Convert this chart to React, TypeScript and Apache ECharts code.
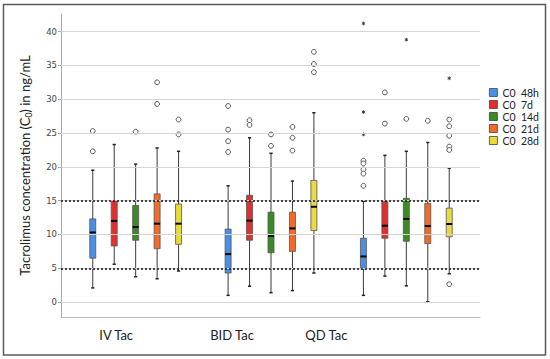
import React, { useEffect, useRef } from "react";
import * as echarts from "echarts";

const groups = ["IV Tac", "BID Tac", "QD Tac"];
const seriesNames = ["C0  48h", "C0  7d", "C0  14d", "C0  21d", "C0  28d"];
const colors = ["#4a8fe3", "#e0302e", "#3b8a26", "#f36b2b", "#e9da3f"];
const yTicks = [0, 5, 10, 15, 20, 25, 30, 35, 40];
const refLines = [5, 15];

// [min, Q1, median, Q3, max] for IV, BID, QD
const c48h = [[2.1, 6.5, 10.3, 12.3, 19.5], [1.0, 4.3, 7.1, 10.8, 17.2], [1.0, 4.9, 6.75, 9.45, 14.9]];
const c7d = [[5.6, 8.3, 12.0, 15.0, 23.3], [2.35, 9.15, 12.05, 15.8, 24.3], [3.85, 9.45, 11.3, 14.85, 21.7]];
const c14d = [[3.75, 9.15, 11.1, 14.3, 20.4], [1.4, 7.3, 9.8, 13.3, 22.0], [2.4, 9.0, 12.3, 15.35, 22.3]];
const c21d = [[3.45, 7.9, 11.6, 16.0, 22.8], [1.7, 7.5, 10.9, 13.3, 17.9], [0.05, 8.65, 11.25, 14.6, 23.6]];
const c28d = [[4.6, 8.55, 11.6, 14.5, 22.3], [4.3, 10.6, 14.1, 18.0, 28.0], [4.2, 9.65, 11.55, 13.9, 19.8]];

// outliers (circles)
const o48h = [[25.3, 22.3], [29.0, 25.5, 23.8, 22.2], [20.9, 20.5, 19.6, 19.0, 17.2]];
const o7d = [[], [26.9, 26.2], [31.0, 26.4]];
const o14d = [[25.2], [24.8, 23.1], [27.1]];
const o21d = [[32.5, 29.3], [25.9, 24.3, 22.4], [26.8]];
const o28d = [[27.0, 24.8], [37.0, 35.2, 34.0], [27.0, 26.0, 24.6, 23.0, 22.5, 2.65]];

// extreme values (stars)
const e48h = [[], [], [41.2, 28.1, 24.8]];
const e7d = [[], [], []];
const e14d = [[], [], [38.8]];
const e21d = [[], [], []];
const e28d = [[], [], [33.1]];

const boxData = [c48h, c7d, c14d, c21d, c28d];
const outliers = [o48h, o7d, o14d, o21d, o28d];
const extremes = [e48h, e7d, e14d, e21d, e28d];

const FONT = "Lato";
const Y_MIN = -2.2;
const Y_MAX = 42.6;

export default function App() {
  const ref = useRef<HTMLDivElement>(null);

  useEffect(() => {
    if (!ref.current) return;
    const chart = echarts.init(ref.current, undefined, { renderer: "svg" });

    const boxSeries = seriesNames.map((name, k) => ({
      type: "custom",
      name,
      xAxisIndex: 1,
      yAxisIndex: 1,
      z: 3,
      itemStyle: { color: colors[k] },
      encode: { x: 0, y: [1, 2, 3, 4, 5] },
      data: boxData[k].map((s, g) => [g, ...s]),
      renderItem: (params: any, api: any) => {
        const g = api.value(0);
        const bw = api.size([1, 0])[0];
        const off = (k - 2) * bw * 0.1585;
        const pMin = api.coord([g, api.value(1)]);
        const pQ1 = api.coord([g, api.value(2)]);
        const pMed = api.coord([g, api.value(3)]);
        const pQ3 = api.coord([g, api.value(4)]);
        const pMax = api.coord([g, api.value(5)]);
        const x = pMin[0] + off;
        const hw = 3;
        const cw = 1.6;
        const children: any[] = [
          { type: "line", shape: { x1: x, y1: pMax[1], x2: x, y2: pMin[1] }, style: { stroke: "#3a3a3a", lineWidth: 1 } },
          { type: "line", shape: { x1: x - cw, y1: pMax[1], x2: x + cw, y2: pMax[1] }, style: { stroke: "#222", lineWidth: 1.5 } },
          { type: "line", shape: { x1: x - cw, y1: pMin[1], x2: x + cw, y2: pMin[1] }, style: { stroke: "#222", lineWidth: 1.5 } },
          { type: "rect", shape: { x: x - hw, y: pQ3[1], width: hw * 2, height: pQ1[1] - pQ3[1] }, style: { fill: colors[k], stroke: "#555", lineWidth: 0.8 } },
          { type: "line", shape: { x1: x - hw, y1: pMed[1], x2: x + hw, y2: pMed[1] }, style: { stroke: "#000", lineWidth: 2 } },
        ];
        const di = params.dataIndex;
        (outliers[k][di] || []).forEach((v: number) => {
          const p = api.coord([g, v]);
          children.push({ type: "circle", shape: { cx: x, cy: p[1], r: 2.4 }, style: { fill: "#fff", stroke: "#555", lineWidth: 1 } });
        });
        (extremes[k][di] || []).forEach((v: number) => {
          const p = api.coord([g, v]);
          const r = 1.9;
          const angles = [90, 30, 150];
          angles.forEach((a) => {
            const rad = (a * Math.PI) / 180;
            children.push({
              type: "line",
              shape: { x1: x - r * Math.cos(rad), y1: p[1] - r * Math.sin(rad), x2: x + r * Math.cos(rad), y2: p[1] + r * Math.sin(rad) },
              style: { stroke: "#333", lineWidth: 0.9 },
            });
          });
        });
        return { type: "group", children };
      },
    }));

    const option: any = {
      animation: false,
      backgroundColor: "#fff",
      textStyle: { fontFamily: FONT },
      graphic: [
        {
          type: "rect",
          shape: { x: 3.5, y: 4.5, width: 542, height: 350.5 },
          style: { fill: "none", stroke: "#5a5a5a", lineWidth: 1.5 },
          silent: true,
          z: 0,
        },
      ],
      legend: {
        orient: "vertical",
        left: 484,
        top: 82,
        itemWidth: 8,
        itemHeight: 8,
        itemGap: 1,
        itemStyle: { borderColor: "#444", borderWidth: 0.8 },
        textStyle: { fontSize: 10.5, lineHeight: 10, color: "#222", fontFamily: FONT },
        data: seriesNames.map((n) => ({ name: n, icon: "rect" })),
      },
      grid: [
        { left: 61, right: 70, top: 14, bottom: 42 },
        { left: 68, right: 76, top: 14, bottom: 42 },
      ],
      xAxis: [
        {
          type: "value",
          gridIndex: 0,
          min: 0,
          max: 1,
          axisLine: { show: true, onZero: false, lineStyle: { color: "#bdbdbd", width: 1 } },
          axisTick: { show: false },
          axisLabel: { show: false },
          splitLine: { show: false },
        },
        {
          type: "category",
          gridIndex: 1,
          data: groups,
          axisLine: { show: false },
          axisTick: { show: false },
          splitLine: { show: false },
          axisLabel: {
            margin: 11,
            fontSize: 13,
            color: "#222",
            formatter: (v: string, i: number) => `{s${i}|${v}}`,
            rich: {
              s0: { fontSize: 13, color: "#222", fontFamily: FONT, padding: [0, 39, 0, 0] },
              s1: { fontSize: 13, color: "#222", fontFamily: FONT, padding: [0, 78, 0, 0] },
              s2: { fontSize: 13, color: "#222", fontFamily: FONT, padding: [0, 160, 0, 0] },
            },
          },
        },
      ],
      yAxis: [
        {
          type: "value",
          gridIndex: 0,
          min: Y_MIN,
          max: Y_MAX,
          axisLine: { show: true, onZero: false, lineStyle: { color: "#aaaaaa", width: 1 } },
          axisTick: { show: true, length: 3, customValues: yTicks, lineStyle: { color: "#aaaaaa" } },
          axisLabel: { customValues: yTicks, fontSize: 8.5, color: "#444", margin: 4, fontFamily: "DejaVu Sans" },
          splitLine: { show: false },
          name: "{a|Tacrolimus concentration (C}{sub|0}{a|) in ng/mL}",
          nameLocation: "middle",
          nameRotate: 90,
          nameGap: 28,
          nameTextStyle: {
            rich: {
              a: { fontSize: 13, color: "#222", fontFamily: FONT, lineHeight: 16, verticalAlign: "middle" },
              sub: { fontSize: 8.5, color: "#222", fontFamily: FONT, lineHeight: 8, verticalAlign: "bottom" },
            },
          },
        },
        {
          type: "value",
          gridIndex: 1,
          min: Y_MIN,
          max: Y_MAX,
          show: false,
        },
      ],
      series: [
        {
          type: "line",
          name: "grid",
          xAxisIndex: 0,
          yAxisIndex: 0,
          data: [],
          silent: true,
          z: 1,
          markLine: {
            silent: true,
            symbol: ["none", "none"],
            label: { show: false },
            data: [
              ...yTicks.map((v) => ({ yAxis: v, lineStyle: { color: "#d4d4d4", width: 1, type: "solid" } })),
              ...refLines.map((v) => ({ yAxis: v, lineStyle: { color: "#111", width: 1.6, type: [2, 2] } })),
            ],
          },
        },
        ...boxSeries,
      ],
    };

    chart.setOption(option);
    return () => chart.dispose();
  }, []);

  return <div ref={ref} style={{ position: "fixed", left: 0, top: 0, width: 550, height: 359 }} />;
}
